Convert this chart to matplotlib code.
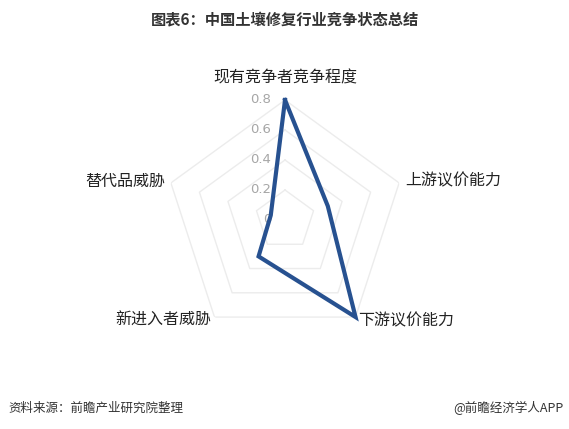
import numpy as np
import matplotlib.pyplot as plt

plt.rcParams['font.family'] = ['Noto Sans CJK SC', 'DejaVu Sans']

categories = ['现有竞争者竞争程度', '上游议价能力', '下游议价能力', '新进入者威胁', '替代品威胁']
values = [0.8, 0.3, 0.8, 0.3, 0.1]
ticks = [0, 0.2, 0.4, 0.6, 0.8]
tick_labels = ['0', '0.2', '0.4', '0.6', '0.8']

title = '图表6：中国土壤修复行业竞争状态总结'
source = '资料来源：前瞻产业研究院整理'
credit = '@前瞻经济学人APP'

fig = plt.figure(figsize=(5.69, 4.29), dpi=100)
ax = fig.add_axes([0.29, 0.2075, 0.4218, 0.5594], projection='polar')
ax.set_theta_offset(np.pi / 2)
ax.set_theta_direction(-1)
ax.set_ylim(0, 0.8)
ax.grid(False)
ax.spines['polar'].set_visible(False)
ax.set_xticks([])
ax.set_yticks([])
ax.patch.set_alpha(0)

n = len(categories)
angles = np.linspace(0, 2 * np.pi, n, endpoint=False)
closed = np.append(angles, angles[0])

# pentagon grid, no spokes in the original
for t in ticks[1:]:
    ax.plot(closed, [t] * (n + 1), color='#ececec', lw=1, zorder=1)

# data
vals = values + values[:1]
ax.plot(closed, vals, color='#275190', lw=3, solid_joinstyle='miter', zorder=3, clip_on=False)

# radial tick labels
for t, lbl in zip(ticks, tick_labels):
    ax.annotate(lbl, xy=(0, t), xytext=(-10, 0), textcoords='offset points',
                ha='right', va='center', fontsize=9.5, color='#a6a6a6',
                family='DejaVu Sans', zorder=2)

# category labels
ax.text(angles[0], 0.947, categories[0], ha='center', va='center', fontsize=11.5, color='#222222')
ax.text(angles[1], 0.84, categories[1], ha='left', va='center', fontsize=11.5, color='#222222')
ax.text(angles[2], 0.83, categories[2], ha='left', va='center', fontsize=11.5, color='#222222')
ax.text(angles[3], 0.83, categories[3], ha='right', va='center', fontsize=11.5, color='#222222')
ax.text(angles[4], 0.84, categories[4], ha='right', va='center', fontsize=11.5, color='#222222')

fig.text(0.5, 1 - 20 / 429, title, ha='center', va='center', fontsize=11, fontweight='bold', color='#333333')
fig.text(8 / 569, 1 - 408 / 429, source, ha='left', va='center', fontsize=9, color='#333333')
fig.text(563 / 569, 1 - 408 / 429, credit, ha='right', va='center', fontsize=9, color='#333333')

fig.savefig('out.png', dpi=100)
